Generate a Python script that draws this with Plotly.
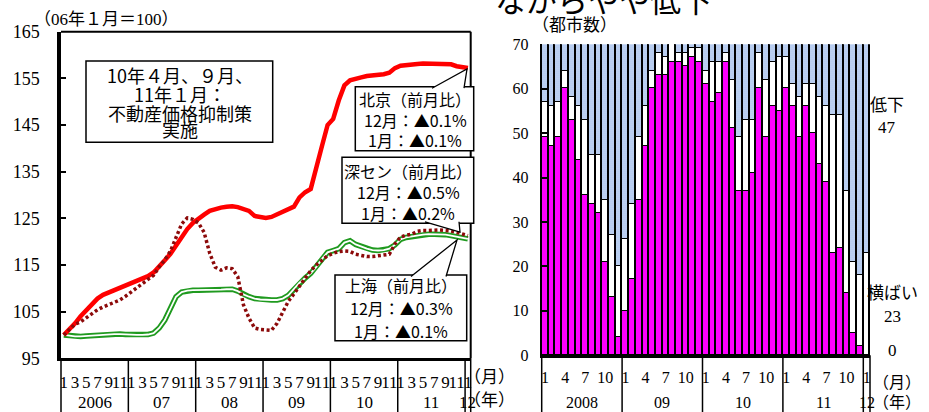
import plotly.graph_objects as go

W, H = 929, 412
def X(px):
    return px / W
def Y(py):
    return 1 - py / H

# ---------------- data: left chart (06年1月=100), 2006.1 .. 2012.1 ----------------
month_idx = list(range(73))
beijing = [100, 101.2, 102.5, 104, 105.3, 106.6, 107.8, 108.6, 109.1, 109.6, 110, 110.5,
           111, 111.5, 112, 112.6, 113.4, 114.6, 116, 117.4, 119.2, 121, 122.7, 124,
           125, 125.8, 126.6, 127, 127.3, 127.5, 127.6, 127.4, 127, 126.6, 125.5, 125.2,
           125.1, 125.3, 125.8, 126.4, 126.9, 127.5, 129.5, 130.6, 131.3, 135.5, 140.5, 145,
           146.3, 150.3, 153.5, 154.6, 154.8, 155.2, 155.5, 155.6, 155.7, 155.9, 156.2, 157.2,
           157.7, 157.9, 158, 158.1, 158.2, 158.2, 158.2, 158.2, 158.1, 158, 157.6, 157.3,
           157.2]
shenzhen = [100, 101.2, 102.3, 102.8, 103.7, 104.7, 105.4, 106, 106.5, 107, 107.5, 108.3,
            109.2, 110, 110.8, 111.7, 112.8, 114.6, 116.1, 118, 121, 123.8, 125.1, 124.8,
            124, 122, 117.5, 114.5, 113.9, 114.4, 114.2, 112.5, 106.5, 103.6, 101.5, 101.2,
            101.1, 101, 102.5, 105, 107.2, 108.8, 110.5, 112.2, 113.8, 115, 116, 117,
            117.5, 117.9, 118, 117.9, 117.3, 117, 116.8, 116.8, 117, 117.1, 117.3, 119.5,
            121, 121.4, 121.6, 122.2, 122.4, 122.4, 122.5, 122.5, 122.4, 122.3, 122, 121.6,
            121.3]
shanghai = [100, 99.8, 99.7, 99.7, 99.8, 99.9, 99.9, 100, 100.1, 100.2, 100.2, 100.1,
            100.1, 100, 100, 100.1, 100.4, 101.5, 103.2, 105.8, 108.2, 109.2, 109.5, 109.6,
            109.6, 109.6, 109.6, 109.6, 109.7, 109.8, 109.8, 109.4, 108.7, 108.2, 107.8, 107.6,
            107.5, 107.5, 107.5, 107.8, 108.5, 109.8, 111.2, 112.2, 113.2, 114.6, 116.3, 117.7,
            118.1, 118.5, 119.8, 120.2, 119.4, 118.9, 118.5, 118.2, 118.1, 118.2, 118.5, 119.3,
            120.5, 120.9, 121.1, 121.4, 121.5, 121.6, 121.6, 121.6, 121.5, 121.3, 121.1, 120.8,
            120.6]
left_years = ["2006", "07", "08", "09", "10", "11", "12"]
left_yticks = [95, 105, 115, 125, 135, 145, 155, 165]

# ---------------- data: right chart (都市数), 2008.1 .. 2012.1 ----------------
bar_idx = list(range(49))
up = [49, 47, 49, 60, 53, 44, 36, 34, 32, 21, 13, 4,
      10, 17, 35, 47, 60, 63, 63, 66, 66, 65, 67, 66,
      61, 57, 59, 66, 51, 37, 37, 41, 60, 49, 56, 55,
      60, 56, 49, 56, 50, 43, 39, 23, 24, 14, 5, 2,
      0]
flat = [8, 9, 8, 4, 5, 12, 17, 11, 13, 14, 14, 16,
        16, 17, 14, 9, 4, 5, 4, 4, 2, 3, 2, 3,
        3, 9, 7, 2, 11, 12, 16, 12, 8, 13, 10, 12,
        7, 5, 9, 5, 11, 15, 17, 31, 30, 23, 16, 16,
        23]
total_cities = 70
down = [total_cities - u - f for u, f in zip(up, flat)]
right_years = ["2008", "09", "10", "11", "12"]
right_yticks = [0, 10, 20, 30, 40, 50, 60, 70]

SERIF = "Liberation Serif, Noto Sans CJK JP"
SANS = "Noto Sans CJK JP"

# axis geometry (pixels)
L_X0, L_X1, L_Y0, L_Y1 = 61, 470.7, 31.7, 358.3
R_X0, R_X1, R_Y0, R_Y1 = 541.7, 870, 44.3, 355.3

fig = go.Figure()

fig.add_trace(go.Scatter(x=month_idx, y=shanghai, mode="lines",
                         line=dict(color="#1f9a1f", width=5.5), xaxis="x", yaxis="y",
                         hoverinfo="skip"))
fig.add_trace(go.Scatter(x=month_idx, y=shanghai, mode="lines",
                         line=dict(color="white", width=1.8), xaxis="x", yaxis="y",
                         name="上海"))
fig.add_trace(go.Scatter(x=month_idx, y=beijing, mode="lines",
                         line=dict(color="#ff0000", width=4.5), xaxis="x", yaxis="y",
                         name="北京"))
fig.add_trace(go.Scatter(x=month_idx, y=shenzhen, mode="lines",
                         line=dict(color="#8c0a0a", width=3.5, dash="3px,2.6px"),
                         xaxis="x", yaxis="y", name="深セン"))

bar_line = dict(color="black", width=1.8)
fig.add_trace(go.Bar(x=bar_idx, y=up, xaxis="x2", yaxis="y2", name="上昇",
                     marker=dict(color="#ff00ff", line=bar_line)))
fig.add_trace(go.Bar(x=bar_idx, y=flat, xaxis="x2", yaxis="y2", name="横ばい",
                     marker=dict(color="white", line=bar_line)))
fig.add_trace(go.Bar(x=bar_idx, y=down, xaxis="x2", yaxis="y2", name="低下",
                     marker=dict(color="#bcd0f0", line=bar_line,
                                 pattern=dict(shape=".", bgcolor="#e4ecf9",
                                              fgcolor="#92b2e8", size=2, solidity=0.6))))

left_tickvals = [i for i in month_idx if (i % 12) % 2 == 0]
left_ticktext = [str(i % 12 + 1) for i in left_tickvals]
right_tickvals = [i for i in bar_idx if (i % 12) % 3 == 0]
right_ticktext = [str(i % 12 + 1) for i in right_tickvals]

fig.update_layout(
    template="none",
    width=W, height=H, autosize=False,
    margin=dict(l=0, r=0, t=0, b=0, pad=0, autoexpand=False),
    paper_bgcolor="white", plot_bgcolor="white",
    showlegend=False, barmode="stack", bargap=0,
    font=dict(family=SERIF, size=17, color="black"),
    xaxis=dict(domain=[X(L_X0), X(L_X1)], range=[-0.5, 72.5], anchor="y", automargin=False,
               showgrid=False, zeroline=False, showline=True, linecolor="black",
               linewidth=3, ticks="", tickvals=left_tickvals, ticktext=left_ticktext,
               tickangle=0, tickfont=dict(family=SERIF, size=17), ticklabelstandoff=6),
    yaxis=dict(domain=[Y(L_Y1), Y(L_Y0)], range=[95, 165], anchor="x", automargin=False,
               showgrid=False, zeroline=False, showline=True, linecolor="black",
               linewidth=3.5, ticks="inside", ticklen=5, tickwidth=2, tickcolor="black",
               tickvals=left_yticks, tickfont=dict(family=SERIF, size=18),
               ticklabelstandoff=14),
    xaxis2=dict(domain=[X(R_X0), X(R_X1)], range=[-0.5, 48.5], anchor="y2", automargin=False,
                showgrid=False, zeroline=False, showline=True, linecolor="black",
                linewidth=2.5, ticks="", tickvals=right_tickvals, ticktext=right_ticktext,
                tickangle=0, tickfont=dict(family=SERIF, size=16), ticklabelstandoff=6),
    yaxis2=dict(domain=[Y(R_Y1), Y(R_Y0)], range=[0, 70], anchor="x2", automargin=False,
                showgrid=False, zeroline=False, showline=True, linecolor="black",
                linewidth=2, ticks="inside", ticklen=5, tickwidth=1.5, tickcolor="black",
                tickvals=right_yticks, tickfont=dict(family=SERIF, size=16),
                ticklabelstandoff=8),
)

def ax_px(v, r0, r1, p0, p1):
    return p0 + (v - r0) / (r1 - r0) * (p1 - p0)

shapes = []
annos = []

def note(cx, cy, text, size=17, family=SERIF, xanchor="center", xref="paper"):
    annos.append(dict(x=X(cx) if xref == "paper" else cx, y=Y(cy), xref=xref, yref="paper",
                      text=text, showarrow=False, xanchor=xanchor, yanchor="middle",
                      font=dict(family=family, size=size, color="black")))

shapes.append(dict(type="line", xref="paper", yref="paper", x0=X(L_X0), x1=X(L_X1),
                   y0=Y(L_Y0), y1=Y(L_Y0), line=dict(color="black", width=2)))
shapes.append(dict(type="line", xref="paper", yref="paper", x0=X(L_X1), x1=X(L_X1),
                   y0=Y(L_Y0), y1=Y(L_Y1), line=dict(color="black", width=2)))

for b in [-0.5 + 12 * k for k in range(7)] + [72.5]:
    px = ax_px(b, -0.5, 72.5, L_X0, L_X1)
    shapes.append(dict(type="line", xref="paper", yref="paper", x0=X(px), x1=X(px),
                       y0=Y(L_Y1), y1=0, line=dict(color="black", width=1.5)))
for k, yl in enumerate(left_years):
    c = 5.5 + 12 * k if k < 6 else 72
    note(c, 402, yl, 17, xref="x")
note(489, 377, "（月）", 17)
note(489, 400, "（年）", 17)

for b in [-0.5 + 12 * k for k in range(5)] + [48.5]:
    px = ax_px(b, -0.5, 48.5, R_X0, R_X1)
    shapes.append(dict(type="line", xref="paper", yref="paper", x0=X(px), x1=X(px),
                       y0=Y(R_Y1), y1=0, line=dict(color="black", width=1.5)))
for k, yl in enumerate(right_years):
    c = 5.5 + 12 * k if k < 4 else 48
    note(c, 402, yl, 16, xref="x2")
note(897, 382, "（月）", 16)
note(897, 402, "（年）", 16)

for txt, cx, cy in [("低下", 887, 105), (str(down[-1]), 887, 128),
                    ("横ばい", 892, 293), (str(flat[-1]), 892, 316), (str(up[-1]), 892, 350)]:
    note(cx, cy, txt, 17)

note(32, 20, "（06年１月＝100）", 17, xanchor="left")
note(530, 26, "（都市数）", 17, xanchor="left")
note(493, -1, "ながらやや低下", 31, family=SANS, xanchor="left")

def box(x0, y0, x1, y1):
    shapes.append(dict(type="rect", xref="paper", yref="paper", x0=X(x0), x1=X(x1),
                       y0=Y(y1), y1=Y(y0), line=dict(color="black", width=1.5),
                       fillcolor="white", layer="above"))

def wedge(pts):
    d = "M " + " L ".join(f"{X(a)},{Y(b)}" for a, b in pts)
    shapes.append(dict(type="path", xref="paper", yref="paper", path=d,
                       line=dict(color="black", width=1.3), fillcolor="white",
                       layer="above"))

box(86, 61, 272.7, 142.3)
box(355.3, 86.7, 473.7, 150.7)
box(342, 157.3, 473.7, 223.3)
box(335, 275, 466.7, 340.7)
wedge([(432, 88.2), (467, 69), (464, 88.2)])
wedge([(425, 221.8), (460, 232), (459, 221.8)])
wedge([(411, 276.5), (457, 240), (446, 276.5)])

def lines(cx, ys, texts, size):
    for yy, t in zip(ys, texts):
        note(cx, yy, t, size, family=SANS)

lines(179.5, [75, 94, 113, 129],
      ["10年４月、９月、", "11年１月：", "不動産価格抑制策", "実施"], 18)
lines(415, [99.5, 120, 140], ["北京（前月比）", "12月：▲0.1%", "1月：▲0.1%"], 16)
lines(408, [170.7, 191.7, 212.5], ["深セン（前月比）", "12月：▲0.5%", "1月：▲0.2%"], 16)
lines(401, [285, 308.3, 331], ["上海（前月比）", "12月：▲0.3%", "1月：▲0.1%"], 16)

fig.update_layout(shapes=shapes, annotations=annos)
fig.write_html("out.html", config={"displayModeBar": False},
               post_script="document.body.style.margin='0';document.body.style.padding='0';")
